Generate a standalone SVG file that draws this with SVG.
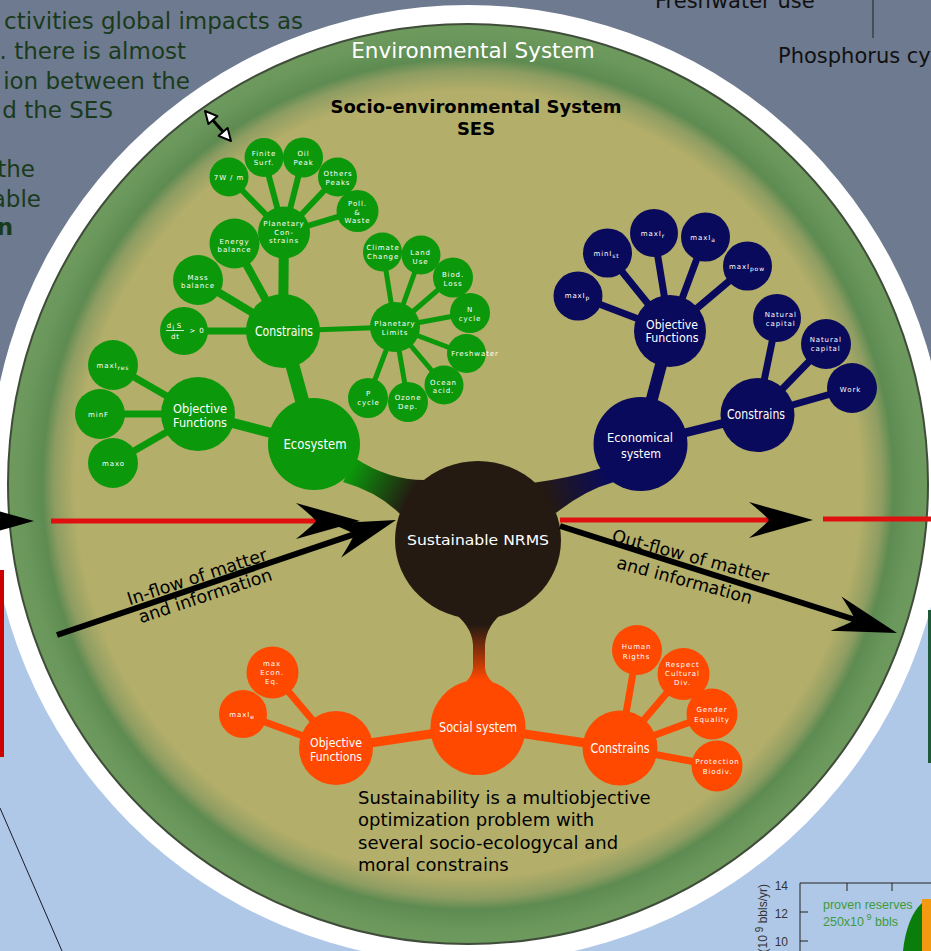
<svg xmlns="http://www.w3.org/2000/svg" width="931" height="951" viewBox="0 0 931 951">
<defs>
<style>
.g{fill:#0b990b}
.b{fill:#0a0a5c}
.o{fill:#ff4800}
.gl{stroke:#0b990b;stroke-linecap:round;fill:none}
.bl{stroke:#0a0a5c;stroke-linecap:round;fill:none}
.ol{stroke:#ff4800;stroke-linecap:round;fill:none}
.s{font-family:"DejaVu Sans",sans-serif;font-size:7px;letter-spacing:0.9px;fill:#fff;text-anchor:middle}
.m{font-family:"DejaVu Sans",sans-serif;font-size:14px;fill:#fff;text-anchor:middle}
.m2{font-family:"DejaVu Sans",sans-serif;font-size:12.5px;fill:#fff;text-anchor:middle}
.red{stroke:#e01010;stroke-width:5;fill:none}
.blk{stroke:#000;stroke-width:6;fill:none}
.flow{font-family:"DejaVu Sans",sans-serif;font-size:17.5px;fill:#000;text-anchor:middle}
.tl{font-family:"DejaVu Sans",sans-serif;font-size:23px;fill:#1a3a1c;text-anchor:end}
.top{font-family:"DejaVu Sans",sans-serif;font-size:21px;fill:#111}
.ax{font-family:"Liberation Sans",Arial,sans-serif;font-size:12px;fill:#333}
.gr{font-family:"Liberation Sans",Arial,sans-serif;font-size:12.5px;fill:#3d9b3d}
</style>
<radialGradient id="disk" gradientUnits="userSpaceOnUse" cx="468" cy="484" r="460">
<stop offset="0" stop-color="#b3ae69"/>
<stop offset="0.855" stop-color="#b3ae69"/>
<stop offset="0.9" stop-color="#8e9d62"/>
<stop offset="0.925" stop-color="#5e8b51"/>
<stop offset="0.97" stop-color="#6a975b"/>
<stop offset="1" stop-color="#6e9a5e"/>
</radialGradient>
<linearGradient id="gn" gradientUnits="userSpaceOnUse" x1="352" y1="468" x2="410" y2="498"><stop offset="0" stop-color="#0b990b"/><stop offset="1" stop-color="#241a12"/></linearGradient>
<linearGradient id="bn" gradientUnits="userSpaceOnUse" x1="608" y1="475" x2="545" y2="495"><stop offset="0" stop-color="#0a0a5c"/><stop offset="1" stop-color="#241a12"/></linearGradient>
<linearGradient id="on" gradientUnits="userSpaceOnUse" x1="0" y1="625" x2="0" y2="680"><stop offset="0" stop-color="#241a12"/><stop offset="1" stop-color="#ff4800"/></linearGradient>
<marker id="ah" markerUnits="userSpaceOnUse" viewBox="-70 -22 72 44" markerWidth="72" markerHeight="44" refX="-43" refY="0" orient="auto">
<path d="M0,0 L-64,-18 Q-48,-5 -44,0 Q-48,5 -64,18 Z" fill="#000"/>
</marker>
</defs>

<!-- background -->
<rect x="0" y="0" width="931" height="480" fill="#6e7a8f"/>
<rect x="0" y="480" width="931" height="471" fill="#b0c8e8"/>

<!-- outside texts -->
<text class="tl" x="303" y="29">ctivities global impacts as</text>
<text class="tl" x="186" y="59">. there is almost</text>
<text class="tl" x="190" y="88.5">ion between the</text>
<text class="tl" x="113" y="118">d the SES</text>
<text class="tl" x="35" y="177">the</text>
<text class="tl" x="41" y="206.5">able</text>
<text class="tl" x="13" y="235" font-weight="bold">n</text>
<text class="top" x="655" y="8">Freshwater use</text>
<line x1="873" y1="0" x2="873" y2="38" stroke="#222" stroke-width="1"/>
<text class="top" x="778" y="63">Phosphorus cy</text>

<!-- chart fragment -->
<g id="chart">
<path d="M903,951 C905,930 912,912 922,903 L922,951 Z" fill="#0a7d0a"/>
<rect x="922" y="899" width="9" height="52" fill="#f39a10"/>
<path d="M800,951 V883 H931 M847,883 V891 M892,883 V891 M800,912 H808 M800,941 H808" stroke="#222" stroke-width="1" fill="none"/>
<text class="ax" x="788" y="889.5" text-anchor="end">14</text>
<text class="ax" x="788" y="917.5" text-anchor="end">12</text>
<text class="ax" x="788" y="946" text-anchor="end">10</text>
<text class="gr" x="823" y="909">proven reserves</text>
<text class="gr" x="823" y="925.5">250x10<tspan font-size="9" dy="-6"> 9</tspan><tspan dy="6"> bbls</tspan></text>
<text class="ax" font-size="13" transform="translate(767,884) rotate(-90)" text-anchor="end">(10<tspan font-size="10" dy="-4"> 9</tspan><tspan dy="4"> bbls/yr)</tspan></text>
</g>
<line x1="0" y1="808" x2="62" y2="951" stroke="#1a1a2a" stroke-width="1"/>

<!-- environment disk -->
<circle cx="468" cy="484" r="479" fill="#fff"/>
<circle cx="468" cy="484" r="460" fill="url(#disk)" stroke="#3f4c3a" stroke-width="2"/>
<text x="473" y="57.5" font-family="DejaVu Sans, sans-serif" font-size="21.5" fill="#fff" text-anchor="middle">Environmental System</text>
<text x="476" y="112.5" font-family="DejaVu Sans, sans-serif" font-size="18" font-weight="bold" fill="#000" text-anchor="middle">Socio-environmental System</text>
<text x="476" y="134.5" font-family="DejaVu Sans, sans-serif" font-size="18" font-weight="bold" fill="#000" text-anchor="middle">SES</text>

<!-- double arrow -->
<g id="resize-arrow">
<line x1="210" y1="117" x2="226" y2="135" stroke="#000" stroke-width="3"/>
<path d="M205,111 L208.4,124 L217.4,116.2 Z M231,141 L218.6,135.8 L227.6,128 Z" fill="#fff" stroke="#000" stroke-width="2" stroke-linejoin="round"/>
</g>

<!-- connectors -->
<g id="connectors">
<path d="M355,458 Q388,480 425,480 L400,514 Q378,492 343,482 Z" fill="url(#gn)"/>
<path d="M602,468 Q570,478 532,483 L556,513 Q585,490 614,482 Z" fill="url(#bn)"/>
<path d="M450,610 Q472,625 473,645 L473,668 Q472,680 455,690 L503,690 Q486,680 485,668 L485,645 Q486,625 506,610 Z" fill="url(#on)"/>

<line class="gl" stroke-width="10" x1="314" y1="444" x2="198" y2="414"/>
<line class="gl" stroke-width="14" x1="314" y1="444" x2="283" y2="331"/>
<line class="gl" stroke-width="10" x1="283" y1="331" x2="284" y2="233"/>
<line class="gl" stroke-width="8" x1="283" y1="331" x2="235" y2="244"/>
<line class="gl" stroke-width="8" x1="283" y1="331" x2="198" y2="280"/>
<line class="gl" stroke-width="7" x1="283" y1="331" x2="184" y2="331"/>
<line class="gl" stroke-width="5" x1="283" y1="331" x2="395" y2="327"/>
<line class="gl" stroke-width="6" x1="284" y1="233" x2="229" y2="177"/>
<line class="gl" stroke-width="6" x1="284" y1="233" x2="264" y2="158"/>
<line class="gl" stroke-width="6" x1="284" y1="233" x2="303" y2="158"/>
<line class="gl" stroke-width="6" x1="284" y1="233" x2="337" y2="177"/>
<line class="gl" stroke-width="6" x1="284" y1="233" x2="357" y2="211"/>
<line class="gl" stroke-width="5" x1="395" y1="327" x2="383" y2="252"/>
<line class="gl" stroke-width="5" x1="395" y1="327" x2="421" y2="255"/>
<line class="gl" stroke-width="5" x1="395" y1="327" x2="453" y2="277"/>
<line class="gl" stroke-width="5" x1="395" y1="327" x2="470" y2="313"/>
<line class="gl" stroke-width="5" x1="395" y1="327" x2="466" y2="354"/>
<line class="gl" stroke-width="5" x1="395" y1="327" x2="444" y2="385"/>
<line class="gl" stroke-width="5" x1="395" y1="327" x2="408" y2="402"/>
<line class="gl" stroke-width="5" x1="395" y1="327" x2="368" y2="398"/>
<line class="gl" stroke-width="7" x1="198" y1="414" x2="113" y2="365"/>
<line class="gl" stroke-width="7" x1="198" y1="414" x2="100" y2="414"/>
<line class="gl" stroke-width="7" x1="198" y1="414" x2="113" y2="463"/>

<line class="bl" stroke-width="12" x1="640" y1="444" x2="670" y2="331"/>
<line class="bl" stroke-width="9" x1="640" y1="444" x2="757" y2="415"/>
<line class="bl" stroke-width="7" x1="670" y1="331" x2="578" y2="296"/>
<line class="bl" stroke-width="7" x1="670" y1="331" x2="607" y2="253"/>
<line class="bl" stroke-width="7" x1="670" y1="331" x2="654" y2="233"/>
<line class="bl" stroke-width="7" x1="670" y1="331" x2="705" y2="237"/>
<line class="bl" stroke-width="7" x1="670" y1="331" x2="747" y2="266"/>
<line class="bl" stroke-width="7" x1="757" y1="415" x2="777" y2="318"/>
<line class="bl" stroke-width="7" x1="757" y1="415" x2="826" y2="344"/>
<line class="bl" stroke-width="7" x1="757" y1="415" x2="852" y2="388"/>

<line class="ol" stroke-width="9" x1="478" y1="727" x2="336" y2="748"/>
<line class="ol" stroke-width="9" x1="478" y1="727" x2="620" y2="748"/>
<line class="ol" stroke-width="7" x1="336" y1="748" x2="243" y2="714"/>
<line class="ol" stroke-width="7" x1="336" y1="748" x2="272" y2="672"/>
<line class="ol" stroke-width="7" x1="620" y1="748" x2="637" y2="650"/>
<line class="ol" stroke-width="7" x1="620" y1="748" x2="683" y2="674"/>
<line class="ol" stroke-width="7" x1="620" y1="748" x2="712" y2="714"/>
<line class="ol" stroke-width="7" x1="620" y1="748" x2="717" y2="766"/>
</g>

<!-- green nodes -->
<g id="ecosystem"><circle class="g" cx="314" cy="444" r="46"/><text class="m" x="315" y="449" textLength="63" lengthAdjust="spacingAndGlyphs">Ecosystem</text></g>
<g id="g-constrains"><circle class="g" cx="283" cy="331" r="37"/><text class="m" x="284" y="335.5" textLength="58" lengthAdjust="spacingAndGlyphs">Constrains</text></g>
<g id="g-objective"><circle class="g" cx="198" cy="414" r="37"/><text class="m2" x="200" y="412.5" textLength="54" lengthAdjust="spacingAndGlyphs">Objective</text><text class="m2" x="200" y="426.5" textLength="54" lengthAdjust="spacingAndGlyphs">Functions</text></g>
<g id="g-maxires"><circle class="g" cx="113" cy="365" r="25"/><text class="s" x="113" y="367.7">maxI<tspan font-size="6" dy="2">res</tspan></text></g>
<g id="g-minf"><circle class="g" cx="100" cy="414" r="25"/><text class="s" x="98.5" y="416.7">minF</text></g>
<g id="g-maxo"><circle class="g" cx="113" cy="463" r="25"/><text class="s" x="113.5" y="466">maxo</text></g>
<g id="g-entropy"><circle class="g" cx="184" cy="331" r="24"/>
<text class="s" x="169.5" y="327.5">d</text><text class="s" x="173.8" y="329.5" font-size="5">i</text><text class="s" x="179.5" y="327.5">S</text>
<line x1="166" y1="330.5" x2="184" y2="330.5" stroke="#fff" stroke-width="0.8"/>
<text class="s" x="175.5" y="338.7">dt</text><text class="s" x="197" y="332.7">&gt; 0</text></g>
<g id="g-mass"><circle class="g" cx="198" cy="280" r="25"/><text class="s"><tspan x="198" y="279.5">Mass</tspan><tspan x="198" y="288">balance</tspan></text></g>
<g id="g-energy"><circle class="g" cx="234.5" cy="243.5" r="25"/><text class="s"><tspan x="234.5" y="243.5">Energy</tspan><tspan x="234.5" y="252">balance</tspan></text></g>
<g id="g-pconstrains"><circle class="g" cx="284" cy="232.5" r="26"/><text class="s"><tspan x="284" y="226">Planetary</tspan><tspan x="284" y="234.5">Con-</tspan><tspan x="284" y="243">strains</tspan></text></g>
<g id="g-7w"><circle class="g" cx="229" cy="177" r="19.5"/><text class="s" x="229" y="179.5">7W / m</text></g>
<g id="g-finite"><circle class="g" cx="264" cy="157.5" r="19.5"/><text class="s"><tspan x="264" y="156">Finite</tspan><tspan x="264" y="165">Surf.</tspan></text></g>
<g id="g-oil"><circle class="g" cx="303" cy="157.5" r="20"/><text class="s"><tspan x="303.5" y="156">Oil</tspan><tspan x="303.5" y="165">Peak</tspan></text></g>
<g id="g-others"><circle class="g" cx="337.5" cy="177" r="19.5"/><text class="s"><tspan x="338" y="176">Others</tspan><tspan x="338" y="185">Peaks</tspan></text></g>
<g id="g-poll"><circle class="g" cx="357.5" cy="211" r="21"/><text class="s"><tspan x="357.5" y="206">Poll.</tspan><tspan x="357.5" y="214.5">&amp;</tspan><tspan x="357.5" y="223">Waste</tspan></text></g>
<g id="g-plimits"><circle class="g" cx="395" cy="327" r="25"/><text class="s"><tspan x="395" y="325.5">Planetary</tspan><tspan x="395" y="334.5">Limits</tspan></text></g>
<g id="g-climate"><circle class="g" cx="382.5" cy="252" r="19.5"/><text class="s"><tspan x="383" y="250">Climate</tspan><tspan x="383" y="259">Change</tspan></text></g>
<g id="g-land"><circle class="g" cx="421" cy="255" r="19.5"/><text class="s"><tspan x="420.5" y="254.5">Land</tspan><tspan x="420.5" y="263.5">Use</tspan></text></g>
<g id="g-biod"><circle class="g" cx="453" cy="277.5" r="20"/><text class="s"><tspan x="453" y="277">Biod.</tspan><tspan x="453" y="285.5">Loss</tspan></text></g>
<g id="g-ncycle"><circle class="g" cx="470" cy="313" r="20"/><text class="s"><tspan x="470" y="311.5">N</tspan><tspan x="470" y="320.5">cycle</tspan></text></g>
<g id="g-fresh"><circle class="g" cx="466.5" cy="353.5" r="19.5"/><text class="s" x="475" y="356">Freshwater</text></g>
<g id="g-ocean"><circle class="g" cx="444" cy="385" r="19.5"/><text class="s"><tspan x="443.5" y="384.5">Ocean</tspan><tspan x="443.5" y="393">acid.</tspan></text></g>
<g id="g-ozone"><circle class="g" cx="408" cy="402" r="20"/><text class="s"><tspan x="408" y="400">Ozone</tspan><tspan x="408" y="408.5">Dep.</tspan></text></g>
<g id="g-pcycle"><circle class="g" cx="368" cy="398" r="20"/><text class="s"><tspan x="368.5" y="396">P</tspan><tspan x="368.5" y="405">cycle</tspan></text></g>

<!-- blue nodes -->
<g id="economical"><circle class="b" cx="640.5" cy="444" r="47"/><text class="m2" x="640" y="442" textLength="66" lengthAdjust="spacingAndGlyphs">Economical</text><text class="m2" x="641" y="458" textLength="40" lengthAdjust="spacingAndGlyphs">system</text></g>
<g id="b-objective"><circle class="b" cx="670" cy="331" r="36"/><text class="m2" x="672" y="328.5" textLength="52" lengthAdjust="spacingAndGlyphs">Objective</text><text class="m2" x="672" y="342" textLength="53" lengthAdjust="spacingAndGlyphs">Functions</text></g>
<g id="b-constrains"><circle class="b" cx="757.5" cy="415" r="37"/><text class="m" x="756" y="419" textLength="58" lengthAdjust="spacingAndGlyphs">Constrains</text></g>
<g id="b-maxip"><circle class="b" cx="578" cy="296" r="24.5"/><text class="s" x="577.5" y="297.7">maxI<tspan font-size="6" dy="2">p</tspan></text></g>
<g id="b-minist"><circle class="b" cx="607.5" cy="253" r="24.5"/><text class="s" x="606.5" y="256">minI<tspan font-size="6" dy="2">st</tspan></text></g>
<g id="b-maxir"><circle class="b" cx="654" cy="233" r="24"/><text class="s" x="653" y="235.5">maxI<tspan font-size="6" dy="2">r</tspan></text></g>
<g id="b-maxia"><circle class="b" cx="705.5" cy="237" r="24.5"/><text class="s" x="703" y="239.5">maxI<tspan font-size="6" dy="2">a</tspan></text></g>
<g id="b-maxipow"><circle class="b" cx="747.5" cy="266" r="24.5"/><text class="s" x="747" y="268.7">maxI<tspan font-size="6" dy="2">pow</tspan></text></g>
<g id="b-natural1"><circle class="b" cx="777" cy="318" r="24"/><text class="s"><tspan x="780.7" y="317">Natural</tspan><tspan x="780.7" y="326">capital</tspan></text></g>
<g id="b-natural2"><circle class="b" cx="826" cy="344" r="25"/><text class="s"><tspan x="825.7" y="342">Natural</tspan><tspan x="825.7" y="351">capital</tspan></text></g>
<g id="b-work"><circle class="b" cx="852" cy="388" r="25"/><text class="s" x="850.5" y="392">Work</text></g>

<!-- orange nodes -->
<g id="social"><circle class="o" cx="478" cy="727.5" r="47.5"/><text class="m" x="478" y="732" textLength="78" lengthAdjust="spacingAndGlyphs">Social system</text></g>
<g id="o-objective"><circle class="o" cx="336" cy="748" r="37"/><text class="m2" x="336" y="746.5" textLength="52" lengthAdjust="spacingAndGlyphs">Objective</text><text class="m2" x="336" y="760.5" textLength="52" lengthAdjust="spacingAndGlyphs">Functions</text></g>
<g id="o-constrains"><circle class="o" cx="620" cy="748" r="37.5"/><text class="m" x="620" y="753" textLength="59" lengthAdjust="spacingAndGlyphs">Constrains</text></g>
<g id="o-maxie"><circle class="o" cx="243" cy="714" r="24"/><text class="s" x="242" y="717">maxI<tspan font-size="6" dy="2">e</tspan></text></g>
<g id="o-econ"><circle class="o" cx="272.5" cy="672.5" r="26"/><text class="s"><tspan x="272" y="665.5">max</tspan><tspan x="272" y="675">Econ.</tspan><tspan x="272" y="684">Eq.</tspan></text></g>
<g id="o-human"><circle class="o" cx="637" cy="650" r="25"/><text class="s"><tspan x="636.5" y="649">Human</tspan><tspan x="636.5" y="658.5">Rigths</tspan></text></g>
<g id="o-respect"><circle class="o" cx="683.5" cy="674" r="26"/><text class="s"><tspan x="682.5" y="667">Respect</tspan><tspan x="682.5" y="676">Cultural</tspan><tspan x="682.5" y="685">Div.</tspan></text></g>
<g id="o-gender"><circle class="o" cx="712" cy="714" r="25.5"/><text class="s"><tspan x="712" y="712">Gender</tspan><tspan x="712" y="721.5">Equality</tspan></text></g>
<g id="o-protection"><circle class="o" cx="717" cy="766" r="25.5"/><text class="s"><tspan x="717.5" y="764">Protection</tspan><tspan x="717.5" y="773.5">Biodiv.</tspan></text></g>

<!-- NRMS -->
<g id="nrms"><ellipse cx="478" cy="540" rx="83" ry="79" fill="#241a12"/><text class="m" x="478" y="545" font-size="16" textLength="142" lengthAdjust="spacingAndGlyphs">Sustainable NRMS</text></g>

<!-- flows -->
<g id="flows">
<line class="red" x1="51" y1="521" x2="317" y2="521" marker-end="url(#ah)"/>
<line class="red" x1="560" y1="520" x2="770" y2="520" marker-end="url(#ah)"/>
<line class="red" x1="823" y1="519" x2="931" y2="519"/>
<line class="blk" x1="57" y1="635" x2="355.3" y2="533.8" marker-end="url(#ah)"/>
<line class="blk" x1="560" y1="526" x2="856" y2="620" marker-end="url(#ah)"/>
<line class="blk" x1="-100" y1="521" x2="-9" y2="521" marker-end="url(#ah)"/>
</g>
<text class="flow" transform="translate(199,582.5) rotate(-18.2)">In-flow of matter</text>
<text class="flow" transform="translate(207,601.5) rotate(-18.2)">and information</text>
<text class="flow" transform="translate(689,562) rotate(15)">Out-flow of matter</text>
<text class="flow" transform="translate(683,586) rotate(15)">and information</text>

<text font-family="DejaVu Sans, sans-serif" font-size="18" fill="#000">
<tspan x="358" y="803.5">Sustainability is a multiobjective</tspan>
<tspan x="358" y="826">optimization problem with</tspan>
<tspan x="358" y="848.5">several socio-ecologycal and</tspan>
<tspan x="358" y="871">moral constrains</tspan>
</text>

<!-- edge fragments -->
<rect x="0" y="570" width="4" height="187" fill="#cc0000"/>
<rect x="928" y="610" width="3" height="153" fill="#1e5a3a"/>
</svg>
